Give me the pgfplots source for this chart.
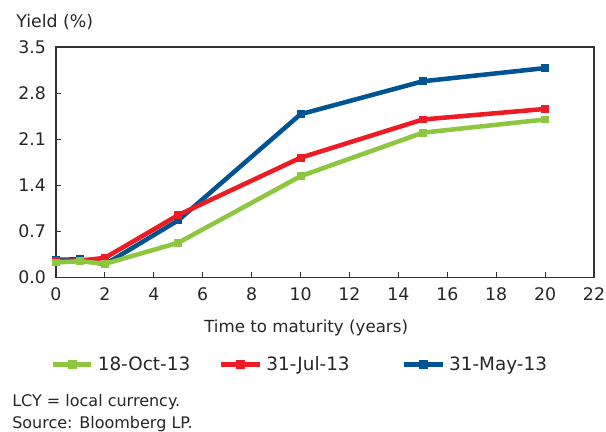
\documentclass[border=0pt]{standalone}
\usepackage{pgfplots}
\pgfplotsset{compat=1.18}
\usepackage{fontspec}
\setmainfont{DejaVu Sans}
\definecolor{cgreen}{RGB}{141,198,63}
\definecolor{cred}{RGB}{237,28,36}
\definecolor{cblue}{RGB}{0,84,147}
\begin{document}
\begin{tikzpicture}
\begin{axis}[
  name=ax,
  scale only axis,
  width=403.5pt, height=173pt,
  xmin=0, xmax=22, ymin=0, ymax=3.5,
  xtick={0,2,...,22},
  ytick={0,0.7,1.4,2.1,2.8,3.5},
  tick align=inside,
  xtick pos=bottom, ytick pos=left,
  major tick length=4pt,
  axis line style={line width=0.9pt, black!80},
  tick style={line width=0.7pt, black!80},
  /pgf/number format/assume math mode=true,
  ticklabel style={font=\fontsize{13}{15}\selectfont, text=black!85},
  xticklabel style={yshift=-4pt},
  yticklabel style={xshift=-4pt, /pgf/number format/.cd, fixed, fixed zerofill, precision=1},
  xlabel={Time to maturity (years)},
  xlabel style={font=\fontsize{12.5}{15}\selectfont, at={(axis description cs:0.465,-0.216)}, anchor=center, text=black!85},
  clip=false,
  legend columns=3,
  legend style={draw=none, fill=none, inner sep=0pt, at={(axis description cs:-0.011,-0.377)}, anchor=west,
    font=\fontsize{13.8}{16}\selectfont, text=black!85,
    /tikz/every even column/.append style={column sep=18.5pt},
    nodes={inner sep=3pt}},
  legend image code/.code={\draw[mark repeat=2,mark phase=2,#1] plot coordinates {(0pt,0pt) (14.5pt,0pt) (29pt,0pt)};},
  every axis plot/.append style={line width=3.4pt, mark=square*, mark size=2.6pt, line join=round},
]
\addlegendimage{color=cgreen, line width=3.6pt, mark=square*, mark size=3pt, mark options={solid, line width=0pt}}
\addlegendimage{color=cred, line width=3.6pt, mark=square*, mark size=3pt, mark options={solid, line width=0pt}}
\addlegendimage{color=cblue, line width=3.6pt, mark=square*, mark size=3pt, mark options={solid, line width=0pt}}
\addplot[forget plot, color=cblue, mark options={solid, line width=0pt}] coordinates {(0,0.27) (1,0.28) (2,0.20) (5,0.87) (10,2.48) (15,2.98) (20,3.18)};
\addplot[forget plot, color=cred, mark options={solid, line width=0pt}] coordinates {(0,0.25) (1,0.26) (2,0.30) (5,0.95) (10,1.82) (15,2.40) (20,2.56)};
\addplot[forget plot, color=cgreen, mark options={solid, line width=0pt}] coordinates {(0,0.23) (1,0.25) (2,0.21) (5,0.53) (10,1.54) (15,2.20) (20,2.40)};
\legend{18-Oct-13, 31-Jul-13\hspace*{17.5pt}, 31-May-13}
\node[anchor=west, font=\fontsize{13}{15}\selectfont, text=black!85, inner sep=0pt] at (axis description cs:-0.0743,1.108) {Yield (\%)};
\node[anchor=west, font=\fontsize{12}{14}\selectfont, text=black!85, inner sep=0pt] at (axis description cs:-0.0818,-0.541) {LCY = local currency.};
\node[anchor=west, font=\fontsize{12}{14}\selectfont, text=black!85, inner sep=0pt] at (axis description cs:-0.0818,-0.636) {Source: Bloomberg LP.};
\end{axis}
\pgfresetboundingbox
\path ([shift={(-42pt,-115.5pt)}]ax.south west) rectangle ([shift={(9pt,35.25pt)}]ax.north east);
\end{tikzpicture}
\end{document}
